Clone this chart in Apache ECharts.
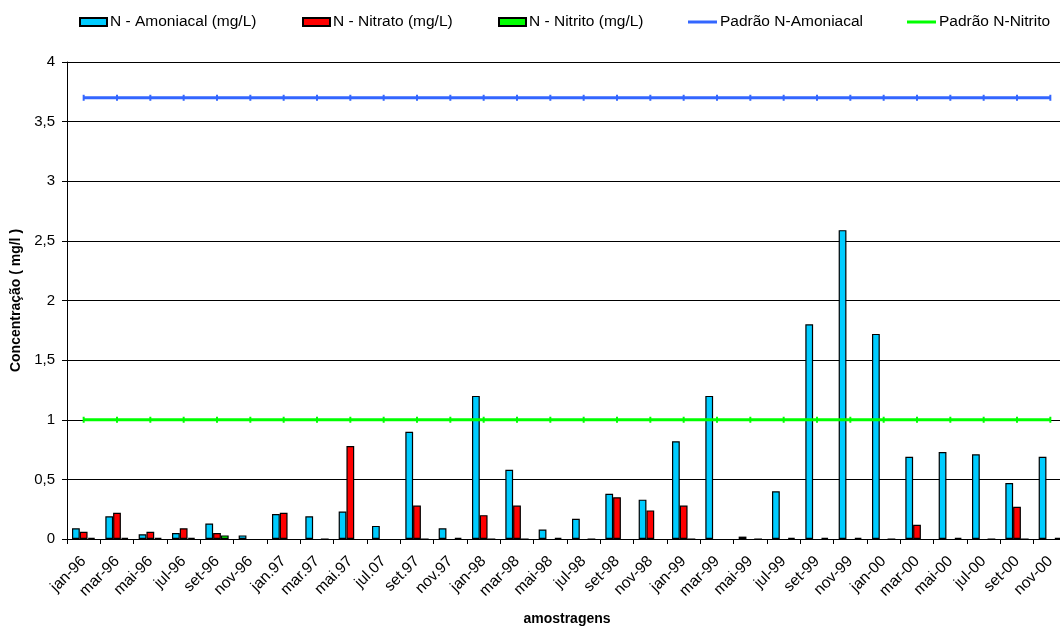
<!DOCTYPE html>
<html>
<head>
<meta charset="utf-8">
<script src="https://cdn.jsdelivr.net/npm/echarts@6/dist/echarts.min.js"></script>
<style>
  html, body { margin: 0; padding: 0; background: #fff; }
  #chart { width: 1060px; height: 626px; }
</style>
</head>
<body>
<div id="chart"></div>
<script>
// Sampling dates (one every two months)
const categories = ['jan-96','mar-96','mai-96','jul-96','set-96','nov-96','jan.97','mar.97','mai.97','jul.07',
  'set.97','nov.97','jan-98','mar-98','mai-98','jul-98','set-98','nov-98','jan-99','mar-99',
  'mai-99','jul-99','set-99','nov-99','jan-00','mar-00','mai-00','jul-00','set-00','nov-00'];

// Measured concentrations (mg/L)
const amoniacal = [0.09,0.19,0.04,0.05,0.13,0.03,0.21,0.19,0.23,0.11,
  0.90,0.09,1.20,0.58,0.08,0.17,0.38,0.33,0.82,1.20,
  0.02,0.40,1.80,2.59,1.72,0.69,0.73,0.71,0.47,0.69];
const nitrato = [0.06,0.22,0.06,0.09,0.05,null,0.22,null,0.78,null,
  0.28,null,0.20,0.28,null,null,0.35,0.24,0.28,null,
  null,null,null,null,null,0.12,null,null,0.27,null];
const nitrito = [0.01,0.01,0.01,0.01,0.03,null,null,0,null,null,
  0,0.01,0,0,0.01,0,null,null,0,null,
  0,0.01,0.01,0.01,0,null,0.01,0,0,0.01];

// Legal limits (mg/L)
const padraoAmoniacal = [3.7,3.7,3.7,3.7,3.7,3.7,3.7,3.7,3.7,3.7,
  3.7,3.7,3.7,3.7,3.7,3.7,3.7,3.7,3.7,3.7,
  3.7,3.7,3.7,3.7,3.7,3.7,3.7,3.7,3.7,3.7];
const padraoNitrito = [1,1,1,1,1,1,1,1,1,1,
  1,1,1,1,1,1,1,1,1,1,
  1,1,1,1,1,1,1,1,1,1];

const yTicks = { min: 0, max: 4, step: 0.5 };

const FONT = '"Liberation Sans", Arial, sans-serif';

const names = ['N - Amoniacal (mg/L)', 'N - Nitrato (mg/L)', 'N - Nitrito (mg/L)',
  'Padrão N-Amoniacal', 'Padrão N-Nitrito'];
const legendLeft = [74, 297, 493, 683, 902];

function barSeries(name, data, color) {
  return {
    name, type: 'bar', data,
    barGap: '0%', barCategoryGap: '30%',
    itemStyle: { color, borderColor: '#000', borderWidth: 1.2 },
    emphasis: { disabled: true }
  };
}
function lineSeries(name, data, color) {
  return {
    name, type: 'line', data,
    symbol: 'rect', symbolSize: [2, 6],
    itemStyle: { color },
    lineStyle: { color, width: 3 },
    emphasis: { disabled: true },
    z: 5
  };
}

const chart = echarts.init(document.getElementById('chart'), null, { renderer: 'canvas' });
chart.setOption({
  animation: false,
  backgroundColor: '#fff',
  textStyle: { fontFamily: FONT },
  legend: names.map((n, i) => ({
    data: [n], left: legendLeft[i], top: 9,
    icon: 'rect',
    itemWidth: i < 3 ? 27 : 29, itemHeight: i < 3 ? 8 : 3, itemGap: 0,
    textStyle: { fontFamily: FONT, fontSize: 15.5, color: '#000', padding: [0, 0, 0, -2] }
  })),
  grid: { left: 67, right: -7, top: 62, bottom: 87, outerBoundsMode: 'none', containLabel: false },
  xAxis: {
    type: 'category', data: categories,
    name: 'amostragens', nameLocation: 'middle', nameGap: 73,
    nameTextStyle: { fontFamily: FONT, fontWeight: 'bold', fontSize: 14, color: '#000' },
    axisLine: { lineStyle: { color: '#000', width: 1 } },
    axisTick: { show: true, length: 5, lineStyle: { color: '#000' } },
    axisLabel: { rotate: 45, interval: 0, margin: 20, fontFamily: FONT, fontSize: 15.5, color: '#000' }
  },
  yAxis: {
    type: 'value', min: yTicks.min, max: yTicks.max, interval: yTicks.step,
    name: 'Concentração ( mg/l )', nameLocation: 'middle', nameGap: 37,
    nameTextStyle: { fontFamily: FONT, fontWeight: 'bold', fontSize: 14, color: '#000' },
    axisLine: { show: true, lineStyle: { color: '#000', width: 1 } },
    axisTick: { show: true, length: 5, lineStyle: { color: '#000' } },
    axisLabel: { margin: 12, fontFamily: FONT, fontSize: 15, color: '#000',
      formatter: v => String(v).replace('.', ',') },
    splitLine: { show: true, lineStyle: { color: '#000', width: 1 } }
  },
  series: [
    barSeries(names[0], amoniacal, '#00CCFF'),
    barSeries(names[1], nitrato, '#FF0000'),
    barSeries(names[2], nitrito, '#00FF00'),
    lineSeries(names[3], padraoAmoniacal, '#3366FF'),
    lineSeries(names[4], padraoNitrito, '#00FF00')
  ]
});
</script>
</body>
</html>
